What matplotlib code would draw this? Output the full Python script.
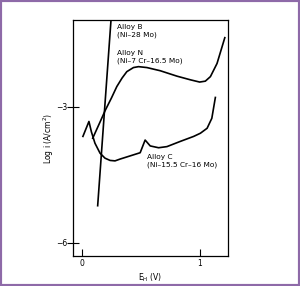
import matplotlib.pyplot as plt
from matplotlib.patches import Rectangle

# Alloy B (Ni-28 Mo)
b_x = [0.133, 0.246]
b_y = [-5.18, -1.08]

# Alloy N (Ni-7 Cr-16.5 Mo)
n_x = [0.091, 0.15, 0.198, 0.25, 0.295, 0.34, 0.38, 0.436, 0.479, 0.55, 0.663,
       0.805, 0.918, 0.997, 1.045, 1.088, 1.144, 1.21]
n_y = [-3.69, -3.35, -3.07, -2.80, -2.55, -2.36, -2.22, -2.13, -2.11, -2.13, -2.20,
       -2.32, -2.40, -2.45, -2.43, -2.33, -2.04, -1.47]

# Alloy C (Ni-15.5 Cr-16 Mo)
c_x = [0.008, 0.059, 0.08, 0.11, 0.153, 0.195, 0.238, 0.28, 0.323, 0.408, 0.493,
       0.535, 0.578, 0.649, 0.72, 0.833, 0.946, 1.003, 1.06, 1.10, 1.13]
c_y = [-3.65, -3.32, -3.55, -3.80, -4.02, -4.13, -4.18, -4.19, -4.15, -4.08, -4.01,
       -3.73, -3.86, -3.90, -3.875, -3.76, -3.65, -3.58, -3.47, -3.25, -2.79]

labels = [("Alloy B\n(Ni\u201328 Mo)", 117, 31),
          ("Alloy N\n(Ni\u20137 Cr\u201316.5 Mo)", 117, 57),
          ("Alloy C\n(Ni\u201315.5 Cr\u201316 Mo)", 147, 161)]

fig = plt.figure(figsize=(3.0, 2.86), dpi=100)
ax = fig.add_axes([73 / 300, 1 - 256 / 286, 155 / 300, 236 / 286])

for xs, ys in [(b_x, b_y), (n_x, n_y), (c_x, c_y)]:
    ax.plot(xs, ys, color="black", lw=1.2)

ax.set_xlim(-0.076, 1.237)
ax.set_ylim(-6.29, -1.08)
ax.set_xticks([0, 1])
ax.set_yticks([-3, -6])
ax.tick_params(axis="x", direction="in", length=5, width=0.8, labelsize=5.5, pad=2)
ax.tick_params(axis="y", direction="inout", length=8, width=0.8, labelsize=5.5, pad=0)
for s in ax.spines.values():
    s.set_linewidth(0.9)

ax.set_xlabel("E$_\\mathregular{H}$ (V)", fontsize=5.5, labelpad=3)
ax.set_ylabel("Log i (A/cm$^\\mathregular{2}$)", fontsize=5.5, labelpad=0)

for txt, px, py in labels:
    fig.text(px / 300, 1 - py / 286, txt, fontsize=5.3, va="center", ha="left",
             linespacing=1.3)

fig.patches.append(Rectangle((0, 0), 1, 1, transform=fig.transFigure, fill=False,
                             edgecolor="#8e6aa8", lw=3))

fig.savefig("out.png", dpi=100)
